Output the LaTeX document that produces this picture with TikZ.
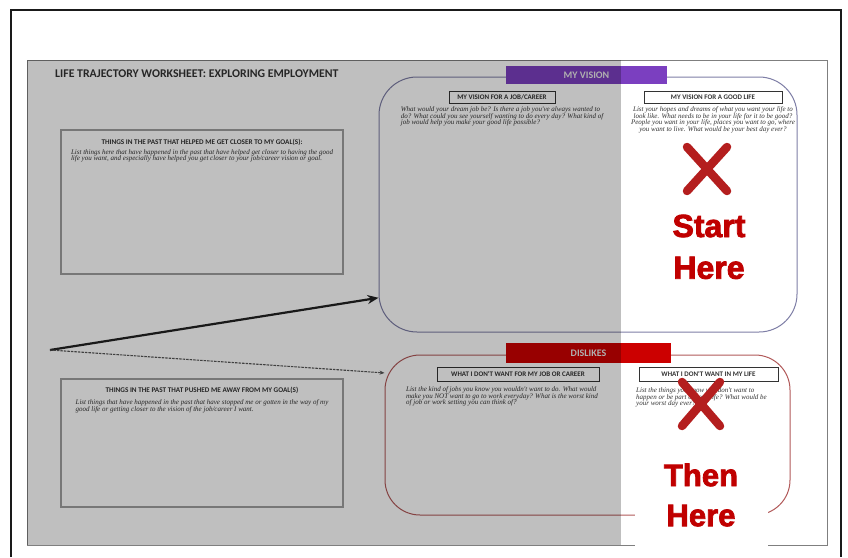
\documentclass[tikz,border=0pt]{standalone}
\usepackage{fontspec}
\newfontfamily\headfont{Carlito}
\newfontfamily\bodyfont{Liberation Serif}
\newfontfamily\bigfont[BoldFeatures={FakeBold=2.5}]{Liberation Sans}
\usetikzlibrary{arrows.meta,positioning}

\definecolor{frameline}{HTML}{1A1A1A}
\definecolor{sheetline}{HTML}{7F7F7F}
\definecolor{pastline}{HTML}{A0A0A0}
\definecolor{visionline}{HTML}{7E7EA6}
\definecolor{dislikeline}{HTML}{B25A5A}
\definecolor{visionpurple}{HTML}{7B3FC0}
\definecolor{dislikered}{HTML}{CC0000}
\definecolor{inkgray}{HTML}{333333}
\definecolor{crossred}{HTML}{B41E1E}
\definecolor{herered}{HTML}{C00000}

\begin{document}
\begin{tikzpicture}[
        x=1pt, y=-1pt,
        pastbox/.style={rectangle, draw=pastline, line width=1.2pt, minimum width=282pt, inner sep=0pt},
        bigbox/.style={rectangle, line width=1pt, inner sep=0pt},
        bar/.style={rectangle, inner sep=0pt, text=white!92!black, font=\headfont\bfseries\fontsize{10}{10}\selectfont},
        headbox/.style={rectangle, draw=inkgray, line width=.7pt, inner sep=0pt, text=inkgray, font=\headfont\bfseries\fontsize{7}{7}\selectfont},
        headtext/.style={inner sep=0pt, text=inkgray, font=\headfont\bfseries\fontsize{7.2}{7.2}\selectfont},
        bodytext/.style={inner sep=0pt, text=inkgray, align=left, font=\bodyfont\itshape\fontsize{7}{6.7}\selectfont},
        cross/.style={draw=crossred, line width=8.5pt, line cap=round},
        herelabel/.style={inner sep=0pt, text=herered, font=\bigfont\bfseries\fontsize{31}{31}\selectfont},
        arrow/.style={-{Stealth[length=11pt,width=9pt]}, line width=2.2pt, draw=black!90},
        dasharrow/.style={-{Stealth[length=5pt,width=4pt]}, line width=1.1pt, dash pattern=on 2.5pt off 1pt, draw=black!75}
    ]
        \useasboundingbox (0,0) rectangle (848,557);

        % frame and sheet
        \draw[frameline, line width=1.4pt] (11,557) -- (11,10) -- (841,10) -- (841,557);
        \draw[sheetline, fill=white, line width=1pt] (27,60) rectangle (827,545);

        \node[anchor=west, inner sep=0pt, text=inkgray, font=\headfont\bfseries\fontsize{11.8}{11.8}\selectfont] (title) at (55,74)
            {LIFE TRAJECTORY WORKSHEET: EXPLORING EMPLOYMENT};

        % past boxes
        \node[pastbox, minimum height=144pt] (helped) at (202,202) {};
        \node[headtext, below=10pt of helped.north] (helpedhead) {THINGS IN THE PAST THAT HELPED ME GET CLOSER TO MY GOAL(S):};
        \node[bodytext, below=3pt of helpedhead] (helpedtext)
            {List things here that have happened in the past that have helped get closer to having the good\\
             life you want, and especially have helped you get closer to your job/career vision or goal.};

        \node[pastbox, minimum height=128pt] (pushed) at (202,443) {};
        \node[headtext, below=9pt of pushed.north] (pushedhead) {THINGS IN THE PAST THAT PUSHED ME AWAY FROM MY GOAL(S)};
        \node[bodytext, below=5pt of pushedhead] (pushedtext)
            {List things that have happened in the past that have stopped me or gotten in the way of my\\
             good life or getting closer to the vision of the job/career I want.};

        % vision
        \node[bigbox, draw=visionline, rounded corners=38pt, minimum width=418pt, minimum height=255pt] (vision) at (588,204.5) {};
        \node[bar, fill=visionpurple, minimum width=161pt, minimum height=18pt] (visionbar) at (586.5,75) {MY VISION};
        \node[headbox, minimum width=106pt, minimum height=12pt] (jobvision) at (502,97) {MY VISION FOR A JOB/CAREER};
        \node[headbox, minimum width=138pt, minimum height=12pt] (lifevision) at (713,97) {MY VISION FOR A GOOD LIFE};
        \node[bodytext, below=3pt of jobvision] (jobvisiontext)
            {What would your dream job be? Is there a job you've always wanted to\\
             do? What could you see yourself wanting to do every day? What kind of\\
             job would help you make your good life possible?};
        \node[bodytext, align=center, below=3pt of lifevision] (lifevisiontext)
            {List your hopes and dreams of what you want your life to\\
             look like. What needs to be in your life for it to be good?\\
             People you want in your life, places you want to go, where\\
             you want to live. What would be your best day ever?};

        % dislikes
        \node[bigbox, draw=dislikeline, rounded corners=35pt, minimum width=405pt, minimum height=160pt] (dislikes) at (587.5,435) {};
        \node[bar, fill=dislikered, minimum width=165pt, minimum height=20pt] (dislikebar) at (588.5,353) {DISLIKES};
        \node[headbox, minimum width=162pt, minimum height=14pt] (jobdislike) at (518,374) {WHAT I DON'T WANT FOR MY JOB OR CAREER};
        \node[headbox, minimum width=139pt, minimum height=14pt] (lifedislike) at (708.5,374) {WHAT I DON'T WANT IN MY LIFE};
        \node[bodytext, below=5pt of jobdislike, xshift=-16pt] (jobdisliketext)
            {List the kind of jobs you know you wouldn't want to do. What would\\
             make you NOT want to go to work everyday? What is the worst kind\\
             of job or work setting you can think of?};
        \node[bodytext, below=6pt of lifedislike, xshift=-7pt] (lifedisliketext)
            {List the things you know you don't want to\\
             happen or be part of your life? What would be\\
             your worst day ever?};

        % greyed-out part of the sheet
        \fill[black, opacity=.25] (27,60) rectangle (621,545);

        % arrows
        \coordinate (origin) at (50,350);
        \draw[arrow] (origin) -- (vision.204);
        \draw[dasharrow] (origin) -- (dislikes.163);

        % start here
        \coordinate (topcross) at (707,169);
        \draw[cross] ([shift={(-20,-22)}]topcross) -- ([shift={(20,22)}]topcross);
        \draw[cross] ([shift={(20,-22)}]topcross) -- ([shift={(-20,22)}]topcross);
        \node[herelabel, font=\bigfont\bfseries\fontsize{32}{32}\selectfont] (start) at (709,226) {Start};
        \node[herelabel, font=\bigfont\bfseries\fontsize{32}{32}\selectfont, below=19pt of start] (starthere) {Here};

        % then here
        \coordinate (lowcross) at (701,404);
        \draw[cross] ([shift={(-19,-22)}]lowcross) -- ([shift={(19,22)}]lowcross);
        \draw[cross] ([shift={(19,-22)}]lowcross) -- ([shift={(-19,22)}]lowcross);
        \fill[white] (635,440) rectangle (768,548);
        \node[herelabel] (then) at (701,475) {Then};
        \node[herelabel, below=18pt of then] (thenhere) {Here};

    \end{tikzpicture}
\end{document}
